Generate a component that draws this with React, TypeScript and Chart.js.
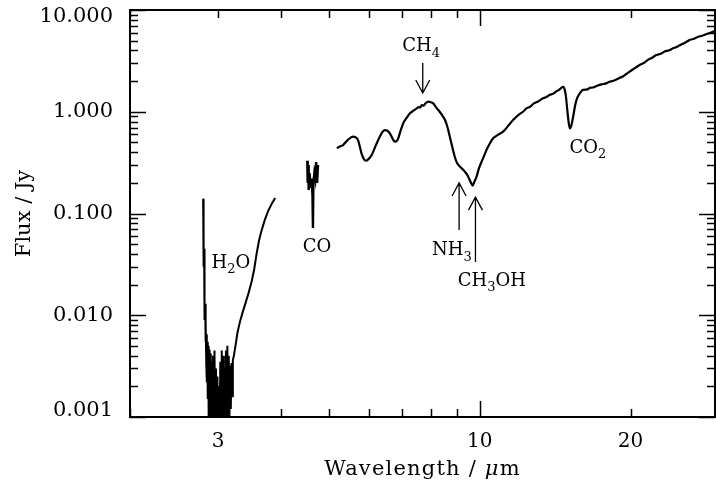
import React, { useEffect, useRef } from 'react';
import { Chart, registerables } from 'chart.js';
Chart.register(...registerables);

// ---- data ----
const h2oWave = [2.800, 2.803, 2.806, 2.809, 2.812, 2.815, 2.818, 2.822, 2.826, 2.830, 2.835, 2.840, 2.845, 2.850, 2.855, 2.860, 2.866, 2.872, 2.878, 2.884, 2.890, 2.900, 2.910, 2.920, 2.930, 2.940, 2.950, 2.960, 2.970, 2.980, 2.990, 3.000, 3.010, 3.020, 3.030, 3.040, 3.050, 3.060, 3.070, 3.080, 3.090, 3.100, 3.110, 3.120, 3.130, 3.140, 3.150, 3.160, 3.170, 3.180, 3.190, 3.200, 3.210, 3.225, 3.245, 3.280, 3.320, 3.360, 3.400, 3.450, 3.500, 3.540, 3.580, 3.620, 3.660, 3.720, 3.780, 3.840, 3.900];
const h2oFlux = [0.140, 0.060, 0.090, 0.030, 0.045, 0.016, 0.022, 0.009, 0.013, 0.0055, 0.0085, 0.0035, 0.0065, 0.0022, 0.0055, 0.0015, 0.0050, 0.0010, 0.0046, 0.0008, 0.0042, 0.0008, 0.0035, 0.0006, 0.0040, 0.0009, 0.0045, 0.0007, 0.0030, 0.0005, 0.0025, 0.0006, 0.0020, 0.0005, 0.0035, 0.0008, 0.0045, 0.0009, 0.0040, 0.0007, 0.0030, 0.0006, 0.0045, 0.0008, 0.0050, 0.0009, 0.0040, 0.0010, 0.0032, 0.0012, 0.0034, 0.0016, 0.0036, 0.0040, 0.0048, 0.0068, 0.0088, 0.0108, 0.0130, 0.0165, 0.0215, 0.028, 0.040, 0.054, 0.067, 0.087, 0.107, 0.125, 0.142];

const coWave = [4.52, 4.53, 4.54, 4.55, 4.57, 4.59, 4.61, 4.63, 4.64, 4.65, 4.67, 4.69, 4.71, 4.73, 4.75];
const coFlux = [0.33, 0.20, 0.30, 0.17, 0.25, 0.18, 0.22, 0.15, 0.072, 0.20, 0.25, 0.22, 0.32, 0.20, 0.30];

const mainWave = [5.18, 5.25, 5.33, 5.45, 5.58, 5.65, 5.71, 5.76, 5.80, 5.86, 5.92, 6.00, 6.08, 6.20, 6.31, 6.40, 6.46, 6.54, 6.61, 6.70, 6.76, 6.82, 6.87, 6.95, 7.03, 7.15, 7.25, 7.38, 7.48, 7.55, 7.60, 7.65, 7.72, 7.80, 7.89, 7.98, 8.07, 8.15, 8.26, 8.40, 8.52, 8.62, 8.71, 8.81, 8.91, 9.00, 9.06, 9.15, 9.27, 9.38, 9.48, 9.58, 9.67, 9.75, 9.85, 9.95, 10.08, 10.20, 10.31, 10.45, 10.63, 10.85, 11.13, 11.40, 11.65, 12.0, 12.2, 12.39, 12.6, 12.80, 13.1, 13.37, 13.6, 13.8, 14.0, 14.2, 14.4, 14.55, 14.66, 14.75, 14.85, 14.95, 15.05, 15.13, 15.22, 15.36, 15.5, 15.62, 15.75, 15.9, 16.07, 16.4, 16.6, 16.8, 17.1, 17.5, 17.8, 18.16, 18.6, 19.0, 19.3, 19.62, 20.2, 20.85, 21.3, 21.7, 22.1, 22.52, 23.0, 23.4, 23.9, 24.32, 24.8, 25.3, 25.8, 26.25, 26.8, 27.3, 27.8, 28.5, 29.23, 29.6];
const mainFlux = [0.438, 0.455, 0.471, 0.53, 0.569, 0.56, 0.527, 0.45, 0.391, 0.345, 0.330, 0.345, 0.376, 0.47, 0.569, 0.64, 0.66, 0.65, 0.614, 0.54, 0.508, 0.515, 0.548, 0.66, 0.77, 0.88, 0.966, 1.03, 1.08, 1.11, 1.10, 1.16, 1.15, 1.22, 1.26, 1.24, 1.21, 1.13, 1.04, 0.93, 0.83, 0.70, 0.569, 0.45, 0.361, 0.315, 0.300, 0.285, 0.268, 0.25, 0.23, 0.205, 0.188, 0.205, 0.23, 0.275, 0.323, 0.37, 0.421, 0.48, 0.548, 0.59, 0.637, 0.73, 0.83, 0.95, 1.00, 1.08, 1.12, 1.20, 1.27, 1.355, 1.40, 1.47, 1.50, 1.58, 1.64, 1.72, 1.76, 1.70, 1.45, 1.05, 0.78, 0.687, 0.72, 0.893, 1.15, 1.33, 1.45, 1.56, 1.64, 1.66, 1.72, 1.73, 1.79, 1.86, 1.89, 1.97, 2.04, 2.15, 2.22, 2.35, 2.60, 2.88, 3.03, 3.25, 3.40, 3.61, 3.72, 3.90, 4.02, 4.21, 4.36, 4.60, 4.82, 5.07, 5.22, 5.45, 5.58, 5.85, 6.12, 6.30];

const xTickValues = [3, 10, 20];
const yTickValues = [0.001, 0.01, 0.1, 1, 10];
const xMajorTickValues = [10];
const xMinorTickValues = [2, 3, 4, 5, 6, 7, 8, 9, 20, 30];

const labelTexts = ['H_2O', 'CO', 'CH_4', 'NH_3', 'CH_3OH', 'CO_2'];
const labelWave = [3.18, 4.73, 7.63, 8.79, 10.57, 16.43];
const labelFlux = [0.0341, 0.048, 4.53, 0.0448, 0.0227, 0.451];

const arrowWave = [7.69, 9.09, 9.80];
const arrowTailFlux = [3.01, 0.0689, 0.0333];
const arrowHeadFlux = [1.53, 0.1995, 0.145];

const X_MIN = 2.0;
const X_MAX = 29.5;
const Y_MIN = 0.001;
const Y_MAX = 10;

const FONT = '"DejaVu Serif", serif';

function toPoints(w: number[], f: number[]) {
  return w.map((x, i) => ({ x, y: f[i] }));
}

function drawRich(ctx: CanvasRenderingContext2D, text: string, cx: number, cy: number, size: number) {
  const parts: { t: string; sub: boolean; w: number }[] = [];
  let i = 0;
  while (i < text.length) {
    if (text[i] === '_') { parts.push({ t: text[i + 1], sub: true, w: 0 }); i += 2; }
    else { parts.push({ t: text[i], sub: false, w: 0 }); i += 1; }
  }
  const mainFont = `${size}px ${FONT}`;
  const subFont = `${Math.round(size * 0.72)}px ${FONT}`;
  let total = 0;
  parts.forEach(p => { ctx.font = p.sub ? subFont : mainFont; p.w = ctx.measureText(p.t).width; total += p.w; });
  let x = cx - total / 2;
  const base = cy + size * 0.36;
  ctx.textBaseline = 'alphabetic';
  ctx.textAlign = 'left';
  parts.forEach(p => {
    ctx.font = p.sub ? subFont : mainFont;
    ctx.fillText(p.t, x, p.sub ? base + size * 0.28 : base);
    x += p.w;
  });
}

const decorPlugin = {
  id: 'decor',
  afterDraw(chart: any) {
    const { ctx, chartArea, scales } = chart;
    const { left, right, top, bottom } = chartArea;
    const xs = scales.x, ys = scales.y;
    ctx.save();
    ctx.strokeStyle = '#000';
    ctx.fillStyle = '#000';
    // frame
    ctx.lineWidth = 2;
    ctx.strokeRect(left, top, right - left, bottom - top);
    // ticks
    ctx.lineWidth = 1.5;
    ctx.beginPath();
    const xTick = (v: number, len: number) => {
      if (v < X_MIN || v > X_MAX) return;
      const px = Math.round(xs.getPixelForValue(v)) + 0.5;
      ctx.moveTo(px, bottom); ctx.lineTo(px, bottom - len);
      ctx.moveTo(px, top); ctx.lineTo(px, top + len);
    };
    xMajorTickValues.forEach(v => xTick(v, 16));
    xMinorTickValues.forEach(v => xTick(v, 8));
    for (let d = -3; d <= 1; d++) {
      for (let m = 1; m <= 9; m++) {
        const v = m * Math.pow(10, d);
        if (v < Y_MIN * 0.999 || v > Y_MAX * 1.001) continue;
        const len = m === 1 ? 16 : 8;
        const py = Math.round(ys.getPixelForValue(v)) + 0.5;
        ctx.moveTo(left, py); ctx.lineTo(left + len, py);
        ctx.moveTo(right, py); ctx.lineTo(right - len, py);
      }
    }
    ctx.stroke();

    // arrows
    ctx.lineWidth = 1.3;
    arrowWave.forEach((w, i) => {
      const px = xs.getPixelForValue(w);
      const y1 = ys.getPixelForValue(arrowTailFlux[i]);
      const y2 = ys.getPixelForValue(arrowHeadFlux[i]);
      const dir = Math.sign(y2 - y1);
      ctx.beginPath();
      ctx.moveTo(px, y1); ctx.lineTo(px, y2);
      ctx.moveTo(px - 7, y2 - dir * 13); ctx.lineTo(px, y2); ctx.lineTo(px + 7, y2 - dir * 13);
      ctx.stroke();
    });

    // labels
    labelTexts.forEach((t, i) => {
      drawRich(ctx, t, xs.getPixelForValue(labelWave[i]), ys.getPixelForValue(labelFlux[i]), 18);
    });

    // axis titles
    const tsize = 21;
    (ctx as any).letterSpacing = '1.2px';
    ctx.font = `${tsize}px ${FONT}`;
    const a = 'Wavelength / ';
    const b = 'm';
    const mu = 'μ';
    const wa = ctx.measureText(a).width;
    const wb = ctx.measureText(b).width;
    ctx.font = `italic ${tsize}px ${FONT}`;
    const wmu = ctx.measureText(mu).width;
    const cx = (left + right) / 2;
    const x0 = cx - (wa + wb + wmu) / 2;
    const by = 467 + tsize * 0.36;
    ctx.textAlign = 'left';
    ctx.textBaseline = 'alphabetic';
    ctx.font = `${tsize}px ${FONT}`;
    ctx.fillText(a, x0, by);
    ctx.font = `italic ${tsize}px ${FONT}`;
    ctx.fillText(mu, x0 + wa, by);
    ctx.font = `${tsize}px ${FONT}`;
    ctx.fillText(b, x0 + wa + wmu, by);
    (ctx as any).letterSpacing = '0px';

    ctx.translate(25, (top + bottom) / 2);
    ctx.rotate(-Math.PI / 2);
    ctx.textAlign = 'center';
    ctx.textBaseline = 'middle';
    ctx.font = `${tsize}px ${FONT}`;
    ctx.fillText('Flux / Jy', 0, 0);
    ctx.restore();
  },
};

export default function App() {
  const ref = useRef<HTMLCanvasElement | null>(null);
  useEffect(() => {
    if (!ref.current) return;
    const lineStyle = { borderColor: '#000', borderWidth: 2, pointRadius: 0, fill: false, showLine: true };
    const chart = new Chart(ref.current, {
      type: 'line',
      data: {
        datasets: [
          { ...lineStyle, data: toPoints(h2oWave, h2oFlux), tension: 0, borderWidth: 2 },
          { ...lineStyle, data: toPoints(coWave, coFlux), tension: 0, borderWidth: 2.4 },
          { ...lineStyle, data: toPoints(mainWave, mainFlux), cubicInterpolationMode: 'monotone', borderWidth: 2.2 },
        ] as any,
      },
      options: {
        responsive: false,
        animation: false,
        devicePixelRatio: 1,
        parsing: false as any,
        layout: { padding: { top: 10, right: 1, left: 0, bottom: 0 } },
        plugins: { legend: { display: false }, tooltip: { enabled: false }, title: { display: false } },
        scales: {
          x: {
            type: 'logarithmic',
            min: X_MIN,
            max: X_MAX,
            position: 'bottom',
            grid: { display: false },
            border: { display: false },
            afterBuildTicks: (s: any) => { s.ticks = xTickValues.map(v => ({ value: v })); },
            afterFit: (s: any) => { s.height = 64; s.paddingLeft = 0; s.paddingRight = 0; },
            ticks: {
              autoSkip: false, maxRotation: 0, minRotation: 0, color: '#000', padding: 5,
              font: { family: FONT, size: 20 },
              callback: (v: any) => String(v),
            },
          },
          y: {
            type: 'logarithmic',
            min: Y_MIN,
            max: Y_MAX,
            grid: { display: false },
            border: { display: false },
            afterBuildTicks: (s: any) => { s.ticks = yTickValues.map(v => ({ value: v })); },
            afterFit: (s: any) => { s.width = 130; s.paddingTop = 0; s.paddingBottom = 0; },
            ticks: {
              autoSkip: false, color: '#000', padding: 9,
              font: { family: FONT, size: 21, lineHeight: 0.62 },
              callback: (v: any) => {
                const s = Number(v).toFixed(3);
                if (Number(v) >= Y_MAX * 0.999) return ['', s];
                if (Number(v) <= Y_MIN * 1.001) return [s, ''];
                return s;
              },
            },
          },
        },
      } as any,
      plugins: [decorPlugin],
    });
    return () => chart.destroy();
  }, []);
  return (
    <div style={{ position: 'fixed', left: 0, top: 0, width: 716, height: 481, background: '#fff' }}>
      <canvas ref={ref} width={716} height={481} style={{ width: 716, height: 481, display: 'block' }} />
    </div>
  );
}
